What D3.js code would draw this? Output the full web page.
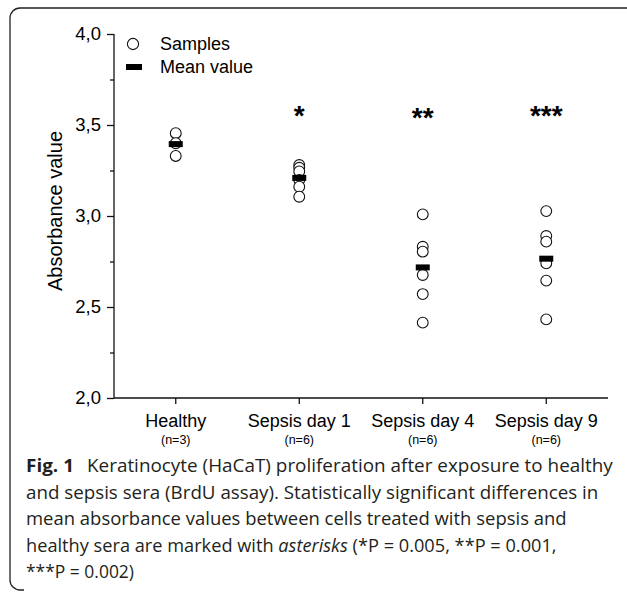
<!DOCTYPE html>
<html><head><meta charset="utf-8">
<script src="https://cdn.jsdelivr.net/npm/d3@7"></script>
<style>body{margin:0;background:#fff;}svg{display:block;}</style>
</head><body>
<svg id="chart" width="627" height="595"></svg>
<script>
const categories = ["Healthy", "Sepsis day 1", "Sepsis day 4", "Sepsis day 9"];
const sampleSizes = ["(n=3)", "(n=6)", "(n=6)", "(n=6)"];
const healthy = [3.455, 3.40, 3.33];
const sepsisDay1 = [3.28, 3.265, 3.245, 3.198, 3.161, 3.106];
const sepsisDay4 = [3.009, 2.831, 2.804, 2.676, 2.571, 2.414];
const sepsisDay9 = [3.027, 2.890, 2.859, 2.740, 2.645, 2.432];
const significance = ["", "*", "**", "***"];
const significanceLevel = [null, 3.59, 3.575, 3.59];
const yTicks = [2.0, 2.5, 3.0, 3.5, 4.0];
const yMinorTicks = [2.25, 2.75, 3.25, 3.75];
const yTitle = "Absorbance value";
const legendLabels = ["Samples", "Mean value"];
const captionBold = "Fig. 1";
const captionLines = [
  [{t:"Keratinocyte (HaCaT) proliferation after exposure to healthy"}],
  [{t:"and sepsis sera (BrdU assay). Statistically significant differences in"}],
  [{t:"mean absorbance values between cells treated with sepsis and"}],
  [{t:"healthy sera are marked with "},{t:"asterisks",i:true},{t:" (*P = 0.005, **P = 0.001,"}],
  [{t:"***P = 0.002)"}]
];

const groups = [healthy, sepsisDay1, sepsisDay4, sepsisDay9];
const svg = d3.select("#chart");
const AX = "Liberation Sans, Arial, sans-serif";

// frame
svg.append("path")
  .attr("d","M627,8 H20 A10,10 0 0 0 10,18 V580 A10,10 0 0 0 20,590 H24")
  .attr("fill","none").attr("stroke","#222").attr("stroke-width",1.3);

const x = d3.scaleBand().domain(categories).range([114, 608]);
const y = d3.scaleLinear().domain([2, 4]).range([398, 34]);

// y axis
const yAxis = d3.axisLeft(y).tickValues(yTicks).tickSize(7).tickPadding(6)
  .tickFormat(d => d3.format(".1f")(d).replace(".", ","));
const gy = svg.append("g").attr("transform","translate(114,0)").call(yAxis);
gy.select(".domain").attr("d","M0,34V398").attr("stroke","#111").attr("stroke-width",1.3);
gy.selectAll(".tick line").attr("stroke","#111").attr("stroke-width",1.3);
gy.selectAll(".tick text").attr("font-family",AX).attr("font-size",18.5).attr("fill","#000");
svg.append("g").attr("transform","translate(114,0)")
  .call(d3.axisLeft(y).tickValues(yMinorTicks).tickSize(4).tickFormat(""))
  .call(g => g.select(".domain").remove())
  .selectAll(".tick line").attr("stroke","#111").attr("stroke-width",1.3);

// x axis
const xAxis = d3.axisBottom(x).tickSize(6).tickFormat("");
const gx = svg.append("g").attr("transform","translate(0,398)").call(xAxis);
gx.select(".domain").attr("d","M114,0H608").attr("stroke","#111").attr("stroke-width",1.3);
gx.selectAll(".tick line").attr("stroke","#111").attr("stroke-width",1.3);

// category labels
categories.forEach((c,i) => {
  const cx = x(c) + x.bandwidth()/2;
  svg.append("text").attr("x",cx).attr("y",427).attr("text-anchor","middle")
    .attr("font-family",AX).attr("font-size",18).text(c);
  svg.append("text").attr("x",cx).attr("y",444).attr("text-anchor","middle")
    .attr("font-family",AX).attr("font-size",12.5).text(sampleSizes[i]);
});

// y title
svg.append("text").attr("transform","translate(62,211) rotate(-90)")
  .attr("text-anchor","middle").attr("font-family",AX).attr("font-size",20).text(yTitle);

// samples
const pts = [];
groups.forEach((g,i) => g.forEach(v => pts.push({c:categories[i], v})));
svg.append("g").selectAll("circle").data(pts).join("circle")
  .attr("cx", d => x(d.c) + x.bandwidth()/2).attr("cy", d => y(d.v))
  .attr("r",5.4).attr("fill","#fff").attr("stroke","#111").attr("stroke-width",1.1);

// means
const means = groups.map((g,i) => ({c:categories[i], v:d3.mean(g)}));
svg.append("g").selectAll("rect").data(means).join("rect")
  .attr("x", d => x(d.c) + x.bandwidth()/2 - 7).attr("y", d => y(d.v) - 3)
  .attr("width",14).attr("height",6).attr("fill","#000");

// significance
significance.forEach((s,i) => {
  if (!s) return;
  const fs = 28;
  svg.append("text").attr("x", x(categories[i]) + x.bandwidth()/2)
    .attr("y", y(significanceLevel[i]) + 0.57*fs).attr("text-anchor","middle")
    .attr("font-family",AX).attr("font-weight","bold").attr("font-size",fs).text(s);
});

// legend
svg.append("circle").attr("cx",133).attr("cy",44).attr("r",5.6)
  .attr("fill","#fff").attr("stroke","#111").attr("stroke-width",1.1);
svg.append("rect").attr("x",126).attr("y",64).attr("width",16).attr("height",6).attr("fill","#000");
svg.append("text").attr("x",160).attr("y",50).attr("font-family",AX).attr("font-size",18).text(legendLabels[0]);
svg.append("text").attr("x",160).attr("y",73).attr("font-family",AX).attr("font-size",18).text(legendLabels[1]);

// caption
const CF = "Open Sans, Noto Sans, sans-serif";
const capColor = "#231f20";
const baselines = [472, 499, 525, 552, 578];
const starts = [87, 26, 26, 26, 26];
const ends = [613, 599, 567, 557, 134];
{
  const g = svg.append("g").attr("transform",`translate(26,${baselines[0]})`);
  const t = g.append("text").attr("font-family",CF).attr("font-weight","bold")
    .attr("font-size",18).attr("fill",capColor).text(captionBold);
  const w = t.node().getComputedTextLength();
  g.attr("transform",`translate(26,${baselines[0]}) scale(${48/w},1)`);
}
captionLines.forEach((parts,i) => {
  const g = svg.append("g");
  const t = g.append("text").attr("font-family",CF).attr("font-size",17.5).attr("fill",capColor);
  parts.forEach(p => {
    const ts = t.append("tspan").text(p.t);
    if (p.i) ts.attr("font-style","italic");
  });
  t.style("white-space","pre");
  const w = t.node().getComputedTextLength();
  const target = ends[i] - starts[i];
  g.attr("transform",`translate(${starts[i]},${baselines[i]}) scale(${target/w},1)`);
});
</script>
</body></html>
